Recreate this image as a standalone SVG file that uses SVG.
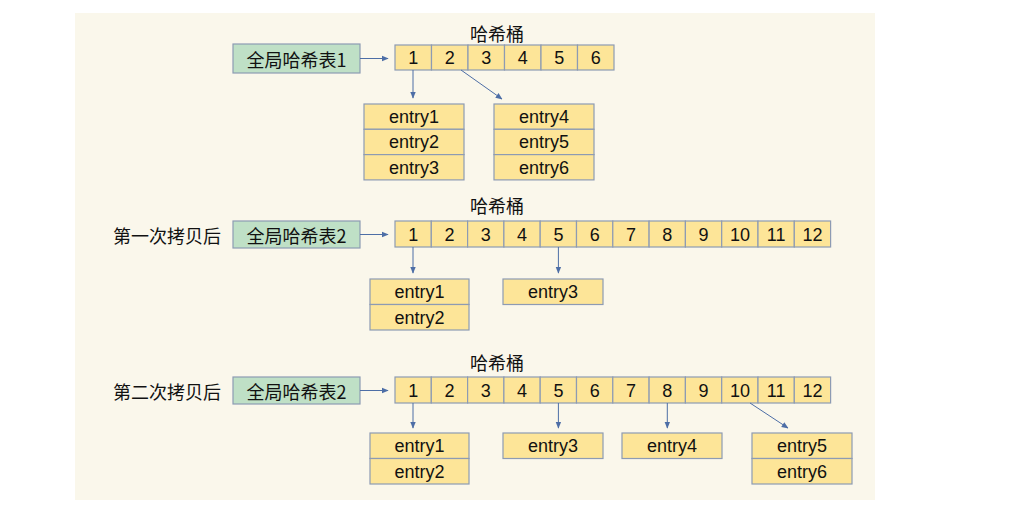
<svg xmlns="http://www.w3.org/2000/svg" width="1017" height="517" viewBox="0 0 1017 517">
<defs>
<style>
.bg{fill:#faf7eb}
.cell{fill:#fde598;stroke:#8d9bb3;stroke-width:1.2}
.tbl{fill:#bfe0c6;stroke:#8d9bb3;stroke-width:1.2}
.t{font-family:"Liberation Sans","Noto Sans CJK SC",sans-serif;font-size:18px;fill:#111;text-anchor:middle;dominant-baseline:central}
.c{font-family:"Noto Sans CJK SC","Liberation Sans",sans-serif;font-size:18px;fill:#111;text-anchor:middle;dominant-baseline:central}
.ln{stroke:#4d6ea6;stroke-width:1;fill:none;marker-end:url(#ah)}
</style>
<marker id="ah" viewBox="0 0 10 10" refX="9" refY="5" markerWidth="7" markerHeight="7" orient="auto" markerUnits="userSpaceOnUse">
<path d="M0,1 L10,5 L0,9 z" fill="#4d6ea6"/>
</marker>
</defs>
<rect class="bg" x="75" y="13" width="800" height="487"/>

<g id="row1">
<text class="c" x="497" y="33">哈希桶</text>
<g id="table1"><rect class="tbl" x="233" y="44" width="127" height="29"/><text class="c" x="296.5" y="58.5">全局哈希表1</text></g>
<g id="buckets1">
<rect class="cell" x="395" y="45" width="36.5" height="25"/><text class="t" x="413.25" y="58">1</text>
<rect class="cell" x="431.5" y="45" width="36.5" height="25"/><text class="t" x="449.75" y="58">2</text>
<rect class="cell" x="468" y="45" width="36.5" height="25"/><text class="t" x="486.25" y="58">3</text>
<rect class="cell" x="504.5" y="45" width="36.5" height="25"/><text class="t" x="522.75" y="58">4</text>
<rect class="cell" x="541" y="45" width="36.5" height="25"/><text class="t" x="559.25" y="58">5</text>
<rect class="cell" x="577.5" y="45" width="36.5" height="25"/><text class="t" x="595.75" y="58">6</text>
</g>
<g id="entries1a">
<rect class="cell" x="364" y="104" width="100" height="25.3"/><text class="t" x="414" y="117">entry1</text>
<rect class="cell" x="364" y="129.3" width="100" height="25.3"/><text class="t" x="414" y="142">entry2</text>
<rect class="cell" x="364" y="154.6" width="100" height="25.3"/><text class="t" x="414" y="167.5">entry3</text>
</g>
<g id="entries1b">
<rect class="cell" x="494" y="104" width="100" height="25.3"/><text class="t" x="544" y="117">entry4</text>
<rect class="cell" x="494" y="129.3" width="100" height="25.3"/><text class="t" x="544" y="142">entry5</text>
<rect class="cell" x="494" y="154.6" width="100" height="25.3"/><text class="t" x="544" y="167.5">entry6</text>
</g>
</g>

<g id="row2">
<text class="c" x="497" y="205">哈希桶</text>
<text class="c" x="167" y="235">第一次拷贝后</text>
<g id="table2"><rect class="tbl" x="233" y="221" width="127" height="27"/><text class="c" x="296.5" y="234.5">全局哈希表2</text></g>
<g id="buckets2">
<rect class="cell" x="395" y="221" width="36.3" height="26"/><text class="t" x="413.2" y="234.5">1</text>
<rect class="cell" x="431.3" y="221" width="36.3" height="26"/><text class="t" x="449.5" y="234.5">2</text>
<rect class="cell" x="467.6" y="221" width="36.3" height="26"/><text class="t" x="485.8" y="234.5">3</text>
<rect class="cell" x="503.9" y="221" width="36.3" height="26"/><text class="t" x="522.1" y="234.5">4</text>
<rect class="cell" x="540.2" y="221" width="36.3" height="26"/><text class="t" x="558.4" y="234.5">5</text>
<rect class="cell" x="576.5" y="221" width="36.3" height="26"/><text class="t" x="594.7" y="234.5">6</text>
<rect class="cell" x="612.8" y="221" width="36.3" height="26"/><text class="t" x="631" y="234.5">7</text>
<rect class="cell" x="649.1" y="221" width="36.3" height="26"/><text class="t" x="667.3" y="234.5">8</text>
<rect class="cell" x="685.4" y="221" width="36.3" height="26"/><text class="t" x="703.6" y="234.5">9</text>
<rect class="cell" x="721.7" y="221" width="36.3" height="26"/><text class="t" x="739.9" y="234.5">10</text>
<rect class="cell" x="758" y="221" width="36.3" height="26"/><text class="t" x="776.2" y="234.5">11</text>
<rect class="cell" x="794.3" y="221" width="36.3" height="26"/><text class="t" x="812.5" y="234.5">12</text>
</g>
<g id="entries2a">
<rect class="cell" x="370" y="279" width="99" height="25.5"/><text class="t" x="419.5" y="292">entry1</text>
<rect class="cell" x="370" y="304.5" width="99" height="25.5"/><text class="t" x="419.5" y="317.5">entry2</text>
</g>
<g id="entries2b">
<rect class="cell" x="503" y="279" width="100" height="25.5"/><text class="t" x="553" y="292">entry3</text>
</g>
</g>

<g id="row3">
<text class="c" x="497" y="362">哈希桶</text>
<text class="c" x="167" y="391">第二次拷贝后</text>
<g id="table3"><rect class="tbl" x="233" y="377" width="127" height="27"/><text class="c" x="296.5" y="390.5">全局哈希表2</text></g>
<g id="buckets3">
<rect class="cell" x="395" y="377" width="36.3" height="26"/><text class="t" x="413.2" y="390.5">1</text>
<rect class="cell" x="431.3" y="377" width="36.3" height="26"/><text class="t" x="449.5" y="390.5">2</text>
<rect class="cell" x="467.6" y="377" width="36.3" height="26"/><text class="t" x="485.8" y="390.5">3</text>
<rect class="cell" x="503.9" y="377" width="36.3" height="26"/><text class="t" x="522.1" y="390.5">4</text>
<rect class="cell" x="540.2" y="377" width="36.3" height="26"/><text class="t" x="558.4" y="390.5">5</text>
<rect class="cell" x="576.5" y="377" width="36.3" height="26"/><text class="t" x="594.7" y="390.5">6</text>
<rect class="cell" x="612.8" y="377" width="36.3" height="26"/><text class="t" x="631" y="390.5">7</text>
<rect class="cell" x="649.1" y="377" width="36.3" height="26"/><text class="t" x="667.3" y="390.5">8</text>
<rect class="cell" x="685.4" y="377" width="36.3" height="26"/><text class="t" x="703.6" y="390.5">9</text>
<rect class="cell" x="721.7" y="377" width="36.3" height="26"/><text class="t" x="739.9" y="390.5">10</text>
<rect class="cell" x="758" y="377" width="36.3" height="26"/><text class="t" x="776.2" y="390.5">11</text>
<rect class="cell" x="794.3" y="377" width="36.3" height="26"/><text class="t" x="812.5" y="390.5">12</text>
</g>
<g id="entries3a">
<rect class="cell" x="370" y="433" width="99" height="25.5"/><text class="t" x="419.5" y="446">entry1</text>
<rect class="cell" x="370" y="458.5" width="99" height="25.5"/><text class="t" x="419.5" y="471.5">entry2</text>
</g>
<g id="entries3b">
<rect class="cell" x="503" y="433" width="100" height="25.5"/><text class="t" x="553" y="446">entry3</text>
</g>
<g id="entries3c">
<rect class="cell" x="622" y="433" width="100" height="25.5"/><text class="t" x="672" y="446">entry4</text>
</g>
<g id="entries3d">
<rect class="cell" x="752" y="433" width="100" height="25.5"/><text class="t" x="802" y="446">entry5</text>
<rect class="cell" x="752" y="458.5" width="100" height="25.5"/><text class="t" x="802" y="471.5">entry6</text>
</g>
</g>

<g id="connectors">
<line class="ln" x1="360" y1="58.5" x2="388" y2="58.5"/>
<line class="ln" x1="413" y1="70" x2="413" y2="98"/>
<line class="ln" x1="461" y1="70" x2="502" y2="99"/>
<line class="ln" x1="360" y1="234.5" x2="388" y2="234.5"/>
<line class="ln" x1="413" y1="247" x2="413" y2="273"/>
<line class="ln" x1="558.4" y1="247" x2="558.4" y2="273"/>
<line class="ln" x1="360" y1="390.5" x2="388" y2="390.5"/>
<line class="ln" x1="413" y1="403" x2="413" y2="428"/>
<line class="ln" x1="558.4" y1="403" x2="558.4" y2="428"/>
<line class="ln" x1="667.3" y1="403" x2="667.3" y2="428"/>
<line class="ln" x1="750" y1="403" x2="788" y2="428"/>
</g>
</svg>
